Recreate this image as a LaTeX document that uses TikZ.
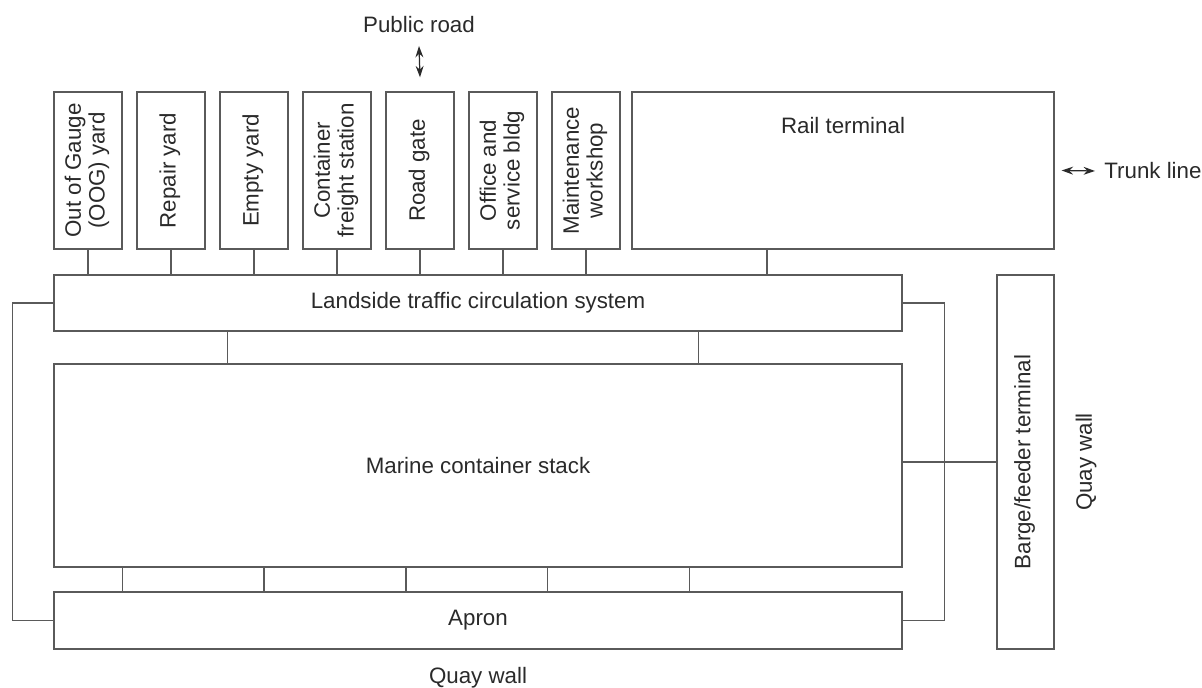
\documentclass[tikz,border=0pt]{standalone}
\usepackage{fontspec}
\setmainfont{Liberation Sans}
\usepackage{graphicx}
\usetikzlibrary{arrows.meta, positioning, calc}

\definecolor{linegray}{HTML}{5A5A5A}
\definecolor{inkgray}{HTML}{2A2A2A}

\newcommand{\vtext}[1]{\rotatebox{90}{\begin{tabular}{@{}c@{}}#1\end{tabular}}}

\begin{document}
\begin{tikzpicture}[
  x=0.02cm, y=-0.02cm,
  every node/.style={font=\fontsize{12.7}{13.5}\selectfont, text=inkgray},
  unit/.style={draw=linegray, line width=0.8pt, minimum width=1.36cm, minimum height=3.14cm, inner sep=0pt},
  strip/.style={draw=linegray, line width=0.8pt, minimum width=16.96cm, inner sep=0pt},
  txt/.style={inner sep=0pt},
  link/.style={draw=linegray, line width=0.8pt},
  twoway/.style={{Stealth[length=6.5pt,width=4.5pt]}-{Stealth[length=6.5pt,width=4.5pt]}, draw=inkgray, line width=0.7pt},
]
\useasboundingbox (0,0) rectangle (1202,688);

% Landside facilities
\node[unit] (oog)      at (88,170.5)  {\vtext{Out of Gauge\\(OOG) yard}};
\node[unit] (repair)   at (171,170.5) {\vtext{Repair yard}};
\node[unit] (empty)    at (254,170.5) {\vtext{Empty yard}};
\node[unit] (cfs)      at (337,170.5) {\vtext{Container\\freight station}};
\node[unit] (gate)     at (420,170.5) {\vtext{Road gate}};
\node[unit] (office)   at (503,170.5) {\vtext{Office and\\service bldg}};
\node[unit] (workshop) at (586,170.5) {\vtext{Maintenance\\workshop}};
\node[unit, minimum width=8.44cm] (rail) at (843,170.5) {};
\node[txt] (railtxt) at ([yshift=-0.68cm]rail.north) {Rail terminal};

% Main strips
\node[strip, minimum height=1.12cm] (land)  at (478,303)   {Landside traffic circulation system};
\node[strip, minimum height=4.06cm] (stack) at (478,465.5) {Marine container stack};
\node[strip, minimum height=1.14cm] (apron) at (478,620.5) {Apron};
\node[unit, minimum width=1.14cm, minimum height=7.48cm] (barge) at (1025.5,462) {\vtext{Barge/feeder terminal}};

% Outside labels
\node[txt] (pubroad) at (419,25) {Public road};
\node[txt, anchor=west] (trunk) at (1104,171) {Trunk line};
\node[txt, rotate=90] (quayside) at (1086,462) {Quay wall};
\node[txt] (quaybottom) at (478,678) {Quay wall};

% Links
\foreach \n in {oog,repair,empty,cfs,gate,office,workshop}
  \draw[link] (\n.south) -- (\n.south |- land.north);
\coordinate (railmid) at ($(rail.south west)!0.5!(land.north east)$);
\draw[link] (railmid |- rail.south) -- (railmid |- land.north);
\draw[link] ([xshift=3.48cm]land.south west) -- ([xshift=3.48cm]stack.north west);
\draw[link] ([xshift=12.9cm]land.south west) -- ([xshift=12.9cm]stack.north west);
\foreach \i in {0,...,4}
  \draw[link] ([xshift=1.38cm+\i*2.835cm]stack.south west) -- ([xshift=1.38cm+\i*2.835cm]apron.north west);
\draw[link] (land.west) -- ++(-41,0) |- (apron.west);
\draw[link] (land.east) -- ++(42,0) |- (apron.east);
\draw[link] (stack.east |- barge.west) -- (barge.west);

% Access arrows
\draw[twoway] ([yshift=-0.42cm]pubroad.center) -- ([yshift=0.28cm]gate.north);
\draw[twoway] ([xshift=0.14cm]rail.east) -- ([xshift=-0.18cm]trunk.west);

\end{tikzpicture}
\end{document}
